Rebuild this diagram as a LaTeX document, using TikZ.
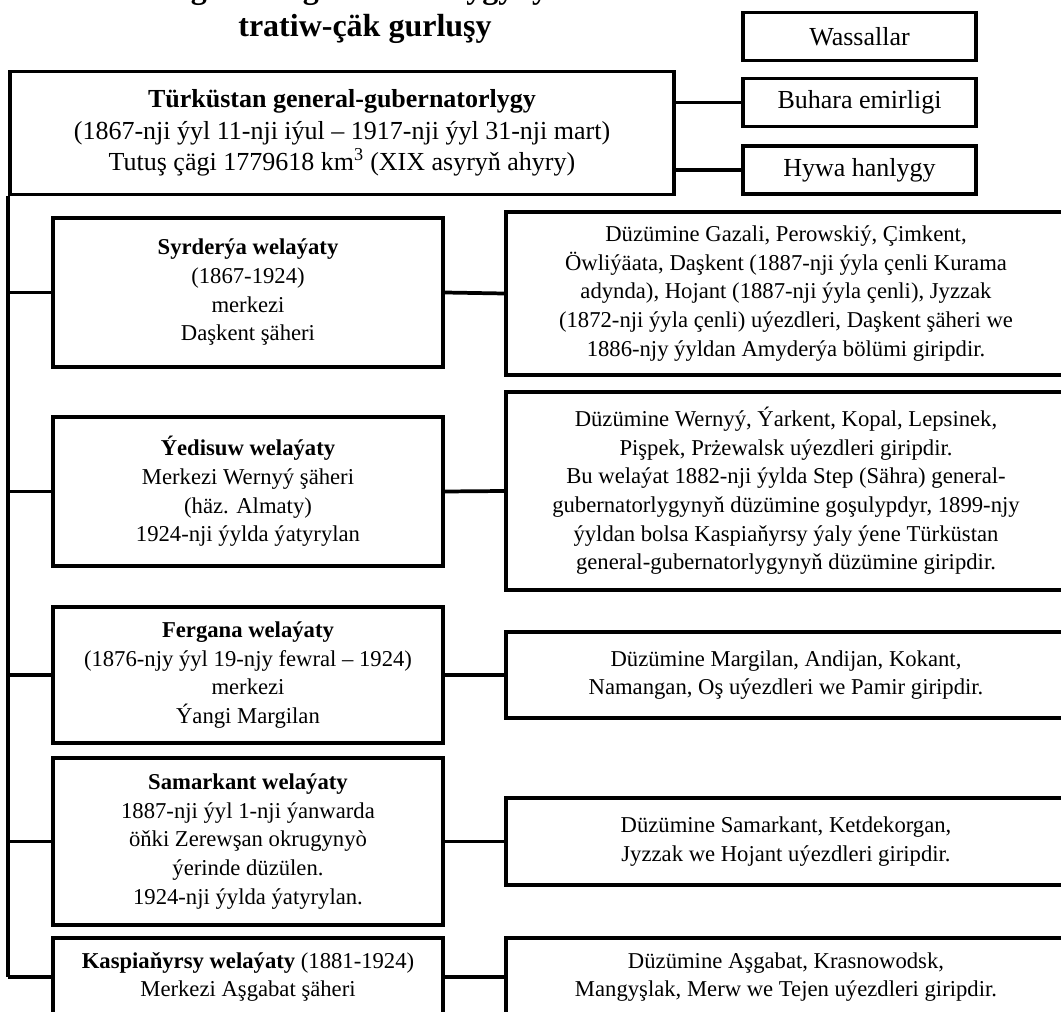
\documentclass[tikz,border=0pt]{standalone}
\usepackage{fontspec}
\setmainfont{Liberation Serif}

\begin{document}
\begin{tikzpicture}[x=0.75pt,y=-0.75pt,
            box/.style={draw,line width=2.8pt,align=center,inner sep=0pt,font=\fontsize{17}{21.5}\selectfont},
            main box/.style={box,font=\fontsize{19.5}{23.5}\selectfont},
            vassal box/.style={main box,minimum width=174.75pt,minimum height=36pt},
            left box/.style={box,minimum width=292.5pt},
            right box/.style={box,minimum width=420pt},
            title/.style={anchor=base,font=\bfseries\fontsize{24}{28}\selectfont},
            link/.style={line width=2.8pt},
            ]

            \clip (0,0) rectangle (1061,1012);

            \node[title] (t1) at (365,-1) {Türküstan general-gubernatorlygynyň adminis-};
            \node[title] (t2) at (365,37) {tratiw-çäk gurluşy};

            \node[main box, minimum width=498pt, minimum height=92.25pt] (0) at (342,133) {\textbf{Türküstan general-gubernatorlygy}\\(1867-nji ýyl 11-nji iýul – 1917-nji ýyl 31-nji mart)\\Tutuş çägi 1779618 km\textsuperscript{3} (XIX asyryň ahyry)};

            \node[vassal box] (v0) at (859.5,36.5) {Wassallar};
            \node[vassal box] (v1) at (859.5,102.5) {Buhara emirligi};
            \node[vassal box] (v2) at (859.5,170) {Hywa hanlygy};

            \node[left box, minimum height=111.75pt] (1) at (248,292.5) {\textbf{Syrderýa welaýaty}\\(1867-1924)\\merkezi\\Daşkent şäheri};
            \node[left box, minimum height=111.75pt] (2) at (248,491.5) {\textbf{Ýedisuw welaýaty}\\Merkezi Wernyý şäheri\\(häz. Almaty)\\1924-nji ýylda ýatyrylan};
            \node[left box, minimum height=102pt] (3) at (248,675) {\textbf{Fergana welaýaty}\\(1876-njy ýyl 19-njy fewral – 1924)\\merkezi\\Ýangi Margilan};
            \node[left box, minimum height=125.25pt] (4) at (248,841.5) {\textbf{Samarkant welaýaty}\\1887-nji ýyl 1-nji ýanwarda\\öňki Zerewşan okrugynyò\\ýerinde düzülen.\\1924-nji ýylda ýatyrylan.};
            \node[left box, minimum height=58.5pt] (5) at (248,977) {\textbf{Kaspiaňyrsy welaýaty} (1881-1924)\\Merkezi Aşgabat şäheri};

            \node[right box, minimum height=122.25pt] (1d) at (786,293.5) {Düzümine Gazali, Perowskiý, Çimkent,\\Öwliýäata, Daşkent (1887-nji ýyla çenli Kurama\\adynda), Hojant (1887-nji ýyla çenli), Jyzzak\\(1872-nji ýyla çenli) uýezdleri, Daşkent şäheri we\\1886-njy ýyldan Amyderýa bölümi giripdir.};
            \node[right box, minimum height=148.5pt] (2d) at (786,491) {Düzümine Wernyý, Ýarkent, Kopal, Lepsinek,\\Pişpek, Prżewalsk uýezdleri giripdir.\\Bu welaýat 1882-nji ýylda Step (Sähra) general-\\gubernatorlygynyň düzümine goşulypdyr, 1899-njy\\ýyldan bolsa Kaspiaňyrsy ýaly ýene Türküstan\\general-gubernatorlygynyň düzümine giripdir.};
            \node[right box, minimum height=64.5pt] (3d) at (786,675) {Düzümine Margilan, Andijan, Kokant,\\Namangan, Oş uýezdleri we Pamir giripdir.};
            \node[right box, minimum height=65.25pt] (4d) at (786,841.5) {Düzümine Samarkant, Ketdekorgan,\\Jyzzak we Hojant uýezdleri giripdir.};
            \node[right box, minimum height=58.5pt] (5d) at (786,977) {Düzümine Aşgabat, Krasnowodsk,\\Mangyşlak, Merw we Tejen uýezdleri giripdir.};

            \draw[link] (0.east |- v1.west) -- (v1.west);
            \draw[link] (0.east |- v2.west) -- (v2.west);
            \draw[link] (0.south west) -- (0.south west |- 5.west);
            \draw[link] (0.south west |- 1.west) -- (1.west);
            \draw[link] (0.south west |- 2.west) -- (2.west);
            \draw[link] (0.south west |- 3.west) -- (3.west);
            \draw[link] (0.south west |- 4.west) -- (4.west);
            \draw[link] (0.south west |- 5.west) -- (5.west);
            \draw[link] (1.east) -- (1d.west);
            \draw[link] (2.east) -- (2d.west);
            \draw[link] (3.east) -- (3d.west);
            \draw[link] (4.east) -- (4d.west);
            \draw[link] (5.east) -- (5d.west);
\end{tikzpicture}
\end{document}
